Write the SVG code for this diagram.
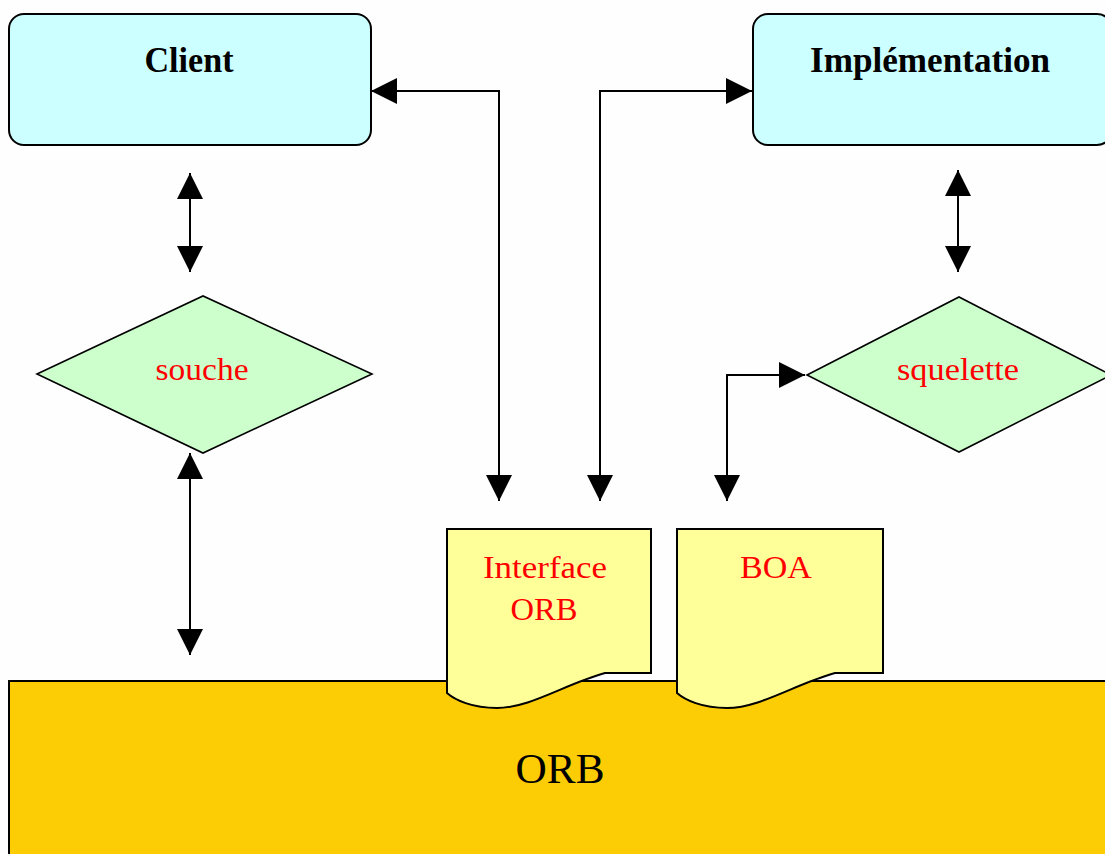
<svg xmlns="http://www.w3.org/2000/svg" width="1105" height="854" viewBox="0 0 1105 854">
  <style>
    .box { fill: #CCFFFF; stroke: #000; stroke-width: 2; }
    .diamond { fill: #CCFFCC; stroke: #000; stroke-width: 1.6; }
    .doc { fill: #FFFF99; stroke: #000; stroke-width: 2; }
    .bus { fill: #FCCD04; stroke: #000; stroke-width: 2; }
    .title { font-family: "Liberation Serif", "Times New Roman", serif; font-weight: bold; font-size: 35px; fill: #000; text-anchor: middle; }
    .label { font-family: "Liberation Serif", "Times New Roman", serif; font-size: 32px; fill: #FF0000; text-anchor: middle; }
    .big { font-family: "Liberation Serif", "Times New Roman", serif; font-size: 42px; fill: #000; text-anchor: middle; }
    .link { fill: none; stroke: #000; stroke-width: 2; marker-start: url(#head); marker-end: url(#head); }
  </style>
  <defs>
    <marker id="head" viewBox="0 0 26 26" refX="26" refY="13" markerWidth="26" markerHeight="26" markerUnits="userSpaceOnUse" orient="auto-start-reverse">
      <path d="M0,0 L26,13 L0,26 Z" fill="#000"/>
    </marker>
  </defs>

  <rect x="0" y="0" width="1105" height="854" fill="#FDFEFD"/>

  <!-- ORB bus -->
  <g id="orb">
    <rect class="bus" x="9" y="681" width="1110" height="200"/>
    <text class="big" x="560" y="783" textLength="89" lengthAdjust="spacingAndGlyphs">ORB</text>
  </g>

  <!-- Client -->
  <g id="client">
    <rect class="box" x="9" y="14" width="362" height="131" rx="15" ry="15"/>
    <text class="title" x="189" y="72" textLength="89" lengthAdjust="spacingAndGlyphs">Client</text>
  </g>

  <!-- Implementation -->
  <g id="implementation">
    <rect class="box" x="753" y="14" width="359" height="131" rx="15" ry="15"/>
    <text class="title" x="930" y="72" textLength="240" lengthAdjust="spacingAndGlyphs">Implémentation</text>
  </g>

  <!-- Stub -->
  <g id="souche">
    <polygon class="diamond" points="37,374 203,296 372,374 203,453"/>
    <text class="label" x="202" y="380" textLength="93" lengthAdjust="spacingAndGlyphs">souche</text>
  </g>

  <!-- Skeleton -->
  <g id="squelette">
    <polygon class="diamond" points="807,375 959,297 1111,375 959,452"/>
    <text class="label" x="958" y="380" textLength="122" lengthAdjust="spacingAndGlyphs">squelette</text>
  </g>

  <!-- ORB interface document -->
  <g id="interface-orb">
    <path class="doc" d="M447,529 H651 V673 H605 C565,684 530,708 497,708 C472,708 455,700 447,693 Z"/>
    <text class="label" x="545" y="578" textLength="124" lengthAdjust="spacingAndGlyphs">Interface</text>
    <text class="label" x="544" y="620" textLength="67" lengthAdjust="spacingAndGlyphs">ORB</text>
  </g>

  <!-- BOA document -->
  <g id="boa">
    <path class="doc" d="M677,529 H883 V673 H835 C795,684 760,708 727,708 C702,708 685,700 677,693 Z"/>
    <text class="label" x="776" y="578" textLength="72" lengthAdjust="spacingAndGlyphs">BOA</text>
  </g>

  <!-- Connectors -->
  <g id="connectors">
    <path class="link" d="M371,91 H499 V501"/>
    <path class="link" d="M600,501 V91 H752"/>
    <path class="link" d="M727,501 V375 H805"/>
    <path class="link" d="M190,173 V272"/>
    <path class="link" d="M190,453 V655"/>
    <path class="link" d="M958,170 V272"/>
  </g>
</svg>
